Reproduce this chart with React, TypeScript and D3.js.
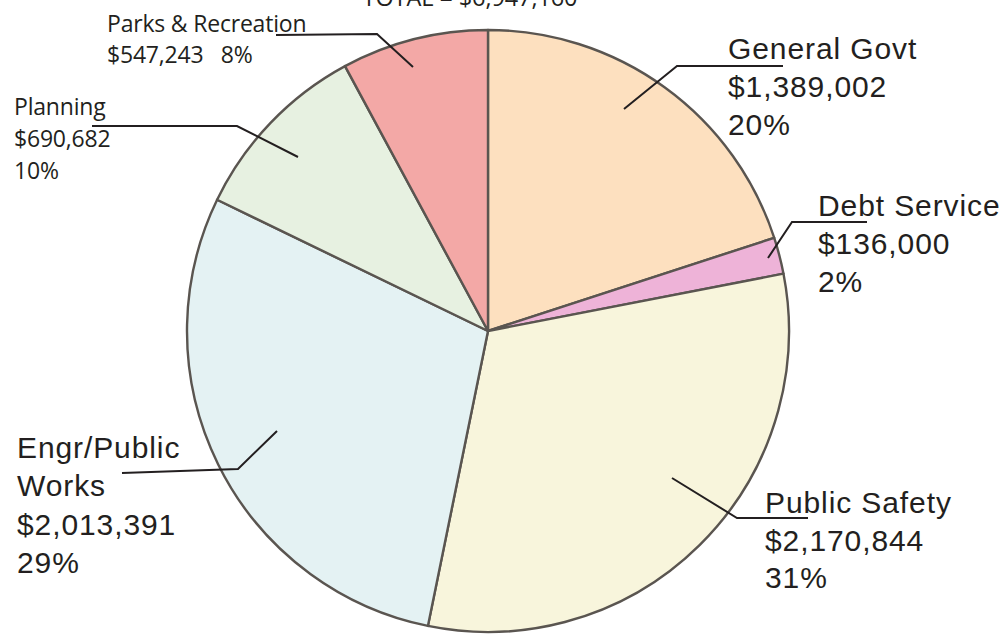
import { useRef, useEffect } from 'react'
import * as d3 from 'd3'

const categories = ["General Govt", "Debt Service", "Public Safety", "Engr/Public Works", "Planning", "Parks & Recreation"]
const amounts = [1389002, 136000, 2170844, 2013391, 690682, 547243]
const percents = ["20%", "2%", "31%", "29%", "10%", "8%"]
const colors = ["#fde0bf", "#eeb3d8", "#f8f5dc", "#e4f2f3", "#e7f1e1", "#f3a8a6"]
const totalLabel = "TOTAL = $6,947,160"

// label lines per slice (Engr/Public Works wraps)
const labelLines = [
  ["General Govt", "$1,389,002", "20%"],
  ["Debt Service", "$136,000", "2%"],
  ["Public Safety", "$2,170,844", "31%"],
  ["Engr/Public", "Works", "$2,013,391", "29%"],
  ["Planning", "$690,682", "10%"],
  ["Parks & Recreation", "$547,243   8%"],
]

// label anchor + leader line placement
const labelPos = [
  { x: 728, y: 59, lh: 38, font: "helv", leader: [[624, 109], [677, 66], [783, 66]] },
  { x: 818, y: 216, lh: 38, font: "helv", leader: [[768, 258], [792, 222], [867, 222]] },
  { x: 765, y: 513, lh: 37.5, font: "helv", leader: [[672, 478], [737, 518], [808, 518]] },
  { x: 17, y: 458, lh: 38.3, font: "helv", leader: [[277, 431], [238, 469], [122, 473]] },
  { x: 14, y: 115, lh: 32, font: "myriad", leader: [[298, 157], [237, 126], [92, 126]] },
  { x: 107, y: 32, lh: 31, font: "myriad", leader: [[413, 67], [377, 34], [276, 35]] },
]

export default function App() {
  const svgRef = useRef<SVGSVGElement>(null)
  const width = 1002
  const height = 635

  useEffect(() => {
    if (!svgRef.current) return
    const svg = d3.select(svgRef.current)
    svg.selectAll("*").remove()

    const cx = 488
    const cy = 331
    const radius = 301

    const pie = d3.pie<number>().sort(null).value(d => d)
    const arc = d3.arc<d3.PieArcDatum<number>>().innerRadius(0).outerRadius(radius)

    const g = svg.append("g").attr("transform", `translate(${cx},${cy})`)
    g.selectAll("path")
      .data(pie(amounts))
      .enter()
      .append("path")
      .attr("d", arc)
      .attr("fill", (_, i) => colors[i])
      .attr("stroke", "#5a5550")
      .attr("stroke-width", 2.4)
      .attr("stroke-linejoin", "round")

    // leader lines
    const line = d3.line()
    svg.selectAll("path.leader")
      .data(labelPos)
      .enter()
      .append("path")
      .attr("class", "leader")
      .attr("d", d => line(d.leader as [number, number][]))
      .attr("fill", "none")
      .attr("stroke", "#231f20")
      .attr("stroke-width", 2)

    // labels
    labelPos.forEach((p, i) => {
      const isHelv = p.font === "helv"
      const t = svg.append("text")
        .attr("x", p.x)
        .attr("y", p.y)
        .attr("fill", "#231f20")
        .attr("font-family", isHelv ? "'Liberation Sans', Arial, sans-serif" : "'Open Sans', sans-serif")
        .attr("font-size", isHelv ? 30 : 23)
        .attr("letter-spacing", isHelv ? 0.9 : -0.2)
        .style("white-space", "pre")
      labelLines[i].forEach((l, j) => {
        t.append("tspan")
          .attr("x", p.x)
          .attr("y", p.y + j * p.lh)
          .text(l)
      })
    })

    svg.append("text")
      .attr("x", 470)
      .attr("y", 6)
      .attr("text-anchor", "middle")
      .attr("fill", "#231f20")
      .attr("font-family", "'Open Sans', sans-serif")
      .attr("font-size", 23.5)
      .attr("letter-spacing", -0.1)
      .text(totalLabel)
  }, [])

  return (
    <svg
      ref={svgRef}
      width={width}
      height={height}
      style={{ position: 'absolute', left: 0, top: 0, background: '#fff' }}
    />
  )
}
